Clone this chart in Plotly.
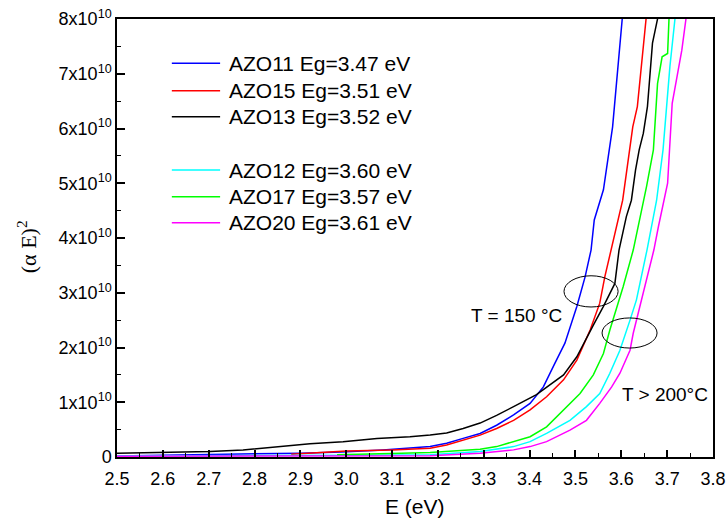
import numpy as np
import plotly.graph_objects as go

# ---------------- data (E in eV, (alpha E)^2 in units of 1e10) ----------------
names = ["AZO11 Eg=3.47 eV", "AZO15 Eg=3.51 eV", "AZO13 Eg=3.52 eV",
         "AZO12 Eg=3.60 eV", "AZO17 Eg=3.57 eV", "AZO20 Eg=3.61 eV"]
colors = ["#0000FF", "#FF0000", "#000000", "#00FFFF", "#00FF00", "#FF00FF"]

E_azo11 = [2.50, 2.60, 2.70, 2.80, 2.90, 2.99, 3.08, 3.183, 3.219, 3.255, 3.292, 3.328, 3.365,
           3.401, 3.415, 3.430, 3.455, 3.477, 3.503, 3.521, 3.534, 3.541, 3.561, 3.581, 3.602, 3.61]
y_azo11 = [0.02, 0.03, 0.04, 0.05, 0.07, 0.09, 0.13, 0.19, 0.25, 0.34, 0.43, 0.58, 0.77,
           0.98, 1.13, 1.28, 1.71, 2.08, 2.75, 3.29, 3.78, 4.33, 4.88, 6.03, 8.0, 8.6]

E_azo15 = [2.88, 2.95, 3.00, 3.10, 3.183, 3.219, 3.255, 3.292, 3.328, 3.365, 3.401, 3.437,
           3.474, 3.503, 3.532, 3.553, 3.564, 3.578, 3.603, 3.625, 3.635, 3.654, 3.66]
y_azo15 = [0.05, 0.09, 0.11, 0.13, 0.16, 0.22, 0.31, 0.40, 0.52, 0.67, 0.86, 1.10,
           1.41, 1.77, 2.32, 2.81, 3.29, 3.78, 4.69, 6.03, 6.40, 8.0, 8.6]

E_azo13 = [2.50, 2.594, 2.703, 2.775, 2.849, 2.921, 2.993, 3.067, 3.139, 3.183, 3.219, 3.255,
           3.292, 3.328, 3.365, 3.415, 3.474, 3.503, 3.539, 3.561, 3.586, 3.595, 3.611, 3.622,
           3.631, 3.639, 3.648, 3.657, 3.668, 3.679, 3.685]
y_azo13 = [0.07, 0.08, 0.10, 0.13, 0.19, 0.24, 0.28, 0.34, 0.37, 0.40, 0.44, 0.52,
           0.62, 0.76, 0.92, 1.14, 1.50, 1.83, 2.41, 2.75, 3.17, 3.78, 4.39, 4.69,
           5.24, 5.61, 5.91, 6.40, 7.56, 8.0, 8.6]

E_azo12 = [2.50, 2.70, 2.90, 3.05, 3.183, 3.292, 3.365, 3.401, 3.437, 3.488, 3.524, 3.553,
           3.575, 3.597, 3.619, 3.633, 3.656, 3.677, 3.691, 3.706, 3.717, 3.72]
y_azo12 = [0.02, 0.02, 0.025, 0.03, 0.04, 0.10, 0.19, 0.28, 0.43, 0.67, 0.92, 1.16,
           1.53, 1.95, 2.50, 2.87, 3.78, 4.69, 5.61, 7.13, 8.0, 8.5]

E_azo17 = [2.98, 3.05, 3.12, 3.183, 3.255, 3.292, 3.328, 3.365, 3.401, 3.437, 3.474, 3.510,
           3.539, 3.561, 3.575, 3.604, 3.626, 3.637, 3.655, 3.670, 3.679, 3.689, 3.701, 3.704, 3.706]
y_azo17 = [0.04, 0.06, 0.07, 0.08, 0.12, 0.14, 0.19, 0.28, 0.37, 0.55, 0.86, 1.16,
           1.50, 1.89, 2.32, 3.11, 3.78, 4.21, 4.94, 5.61, 6.82, 7.31, 7.37, 8.0, 8.6]

E_azo20 = [2.50, 2.70, 2.90, 3.05, 3.183, 3.292, 3.365, 3.401, 3.437, 3.488, 3.524, 3.553,
           3.579, 3.597, 3.612, 3.619, 3.626, 3.641, 3.671, 3.681, 3.701, 3.711, 3.732, 3.741, 3.745]
y_azo20 = [0.015, 0.015, 0.02, 0.02, 0.025, 0.07, 0.13, 0.19, 0.28, 0.49, 0.67, 0.98,
           1.28, 1.53, 1.83, 1.95, 2.26, 2.75, 3.78, 4.21, 5.00, 6.46, 7.43, 8.0, 8.5]

E_series = [E_azo11, E_azo15, E_azo13, E_azo12, E_azo17, E_azo20]
y_series = [y_azo11, y_azo15, y_azo13, y_azo12, y_azo17, y_azo20]

x_ticks = [2.5, 2.6, 2.7, 2.8, 2.9, 3.0, 3.1, 3.2, 3.3, 3.4, 3.5, 3.6, 3.7, 3.8]
y_ticks = [0, 1e10, 2e10, 3e10, 4e10, 5e10, 6e10, 7e10, 8e10]
y_ticktext = ["0"] + [f"{k}x10<sup>10</sup>" for k in range(1, 9)]

# annotation ellipses (E range, y range in 1e10) and labels
ellipse_E = [(3.475, 3.593), (3.558, 3.678)]
ellipse_y = [(2.74, 3.31), (1.99, 2.54)]
label_text = ["T = 150 °C", "T > 200°C"]
label_E = [3.372, 3.695]
label_y = [2.59, 1.15]

# legend layout (paper fractions of the plot area)
legend_rows_y = [0.899, 0.836, 0.777, 0.655, 0.594, 0.535]
legend_line_x = (0.092, 0.173)
legend_text_x = 0.185

SANS = "Liberation Sans, Arial, sans-serif"
SERIF = "Liberation Serif, Times New Roman, serif"

fig = go.Figure()
for name, col, ex, yy in zip(names, colors, E_series, y_series):
    fig.add_trace(go.Scatter(
        x=ex, y=np.array(yy) * 1e10, mode="lines", name=name,
        showlegend=False, line=dict(color=col, width=1.5)))

# legend drawn as line samples + text (keeps original spacing)
for name, col, ly in zip(names, colors, legend_rows_y):
    fig.add_shape(type="line", xref="paper", yref="paper",
                  x0=legend_line_x[0], x1=legend_line_x[1], y0=ly, y1=ly,
                  line=dict(color=col, width=1.5))
    fig.add_annotation(x=legend_text_x, y=ly, xref="paper", yref="paper", text=name,
                       showarrow=False, xanchor="left", yanchor="middle",
                       font=dict(family=SANS, size=21, color="black"))

for (x0, x1), (y0, y1) in zip(ellipse_E, ellipse_y):
    fig.add_shape(type="circle", xref="x", yref="y", x0=x0, x1=x1,
                  y0=y0 * 1e10, y1=y1 * 1e10, line=dict(color="black", width=1))

for t, ex, yy in zip(label_text, label_E, label_y):
    fig.add_annotation(x=ex, y=yy * 1e10, xref="x", yref="y", text=t, showarrow=False,
                       font=dict(family=SANS, size=19, color="black"))

# axis titles
fig.add_annotation(x=0.5, y=0, xref="paper", yref="paper", yanchor="middle", yshift=-49,
                   text="E (eV)", showarrow=False,
                   font=dict(family=SANS, size=21, color="black"))
fig.add_annotation(x=-0.151, y=0.479, xref="paper", yref="paper", textangle=-90,
                   xanchor="center", yanchor="middle", text="(α E)<sup>2</sup>", showarrow=False,
                   font=dict(family=SERIF, size=22, color="black"))

fig.update_layout(
    width=726, height=518,
    margin=dict(l=117, r=13, t=19, b=61),
    paper_bgcolor="white", plot_bgcolor="white",
    font=dict(family=SANS, color="black"),
    showlegend=False,
)
fig.update_xaxes(range=[2.5, 3.8], tickvals=x_ticks, tickformat=".1f", automargin=False,
                 ticks="inside", ticklen=7, tickwidth=1.5, tickcolor="black",
                 ticklabelstandoff=5,
                 minor=dict(ticks="inside", ticklen=4, tickwidth=1.2, dtick=0.05, tick0=2.5, tickcolor="black"),
                 showline=True, linewidth=1.5, linecolor="black", mirror=True,
                 showgrid=False, zeroline=False,
                 tickfont=dict(family=SANS, size=18, color="black"))
fig.update_yaxes(range=[0, 8e10], tickvals=y_ticks, ticktext=y_ticktext, automargin=False,
                 ticks="inside", ticklen=8, tickwidth=1.5, tickcolor="black",
                 minor=dict(ticks="inside", ticklen=4, tickwidth=1.2, dtick=0.5e10, tick0=0, tickcolor="black"),
                 showline=True, linewidth=1.5, linecolor="black", mirror=True,
                 showgrid=False, zeroline=False,
                 tickfont=dict(family=SANS, size=18, color="black"))

fig.write_html("out.html")
